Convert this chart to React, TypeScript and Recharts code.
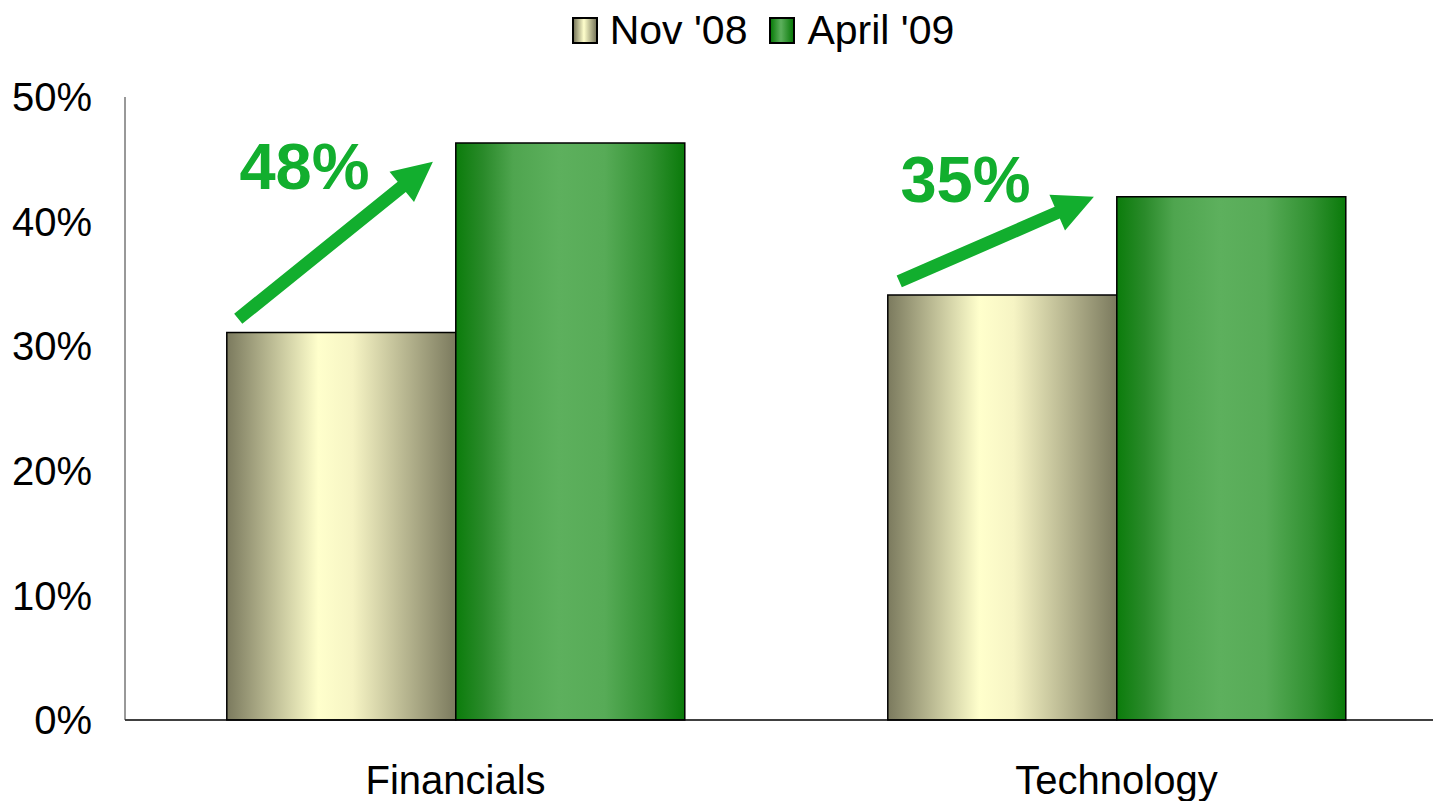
import React from 'react';
import { BarChart, Bar, XAxis, YAxis, Legend } from 'recharts';

const categories = ['Financials', 'Technology'];
const nov08 = [31.1, 34.1];
const apr09 = [46.3, 42.0];
const yTicks = [0, 10, 20, 30, 40, 50];
const seriesNames = ["Nov '08", "April '09"];
const changeLabels = ['48%', '35%'];
const arrowFrom = [32.2, 35.2];
const arrowTo = [44.8, 42.0];
const labelAt = [42.6, 41.6];

const data = categories.map((c, i) => ({ name: c, nov: nov08[i], apr: apr09[i] }));

const FONT = '"Liberation Sans", Arial, Helvetica, sans-serif';
const GREEN = '#12AE2E';
const CHART_W = 1460;
const CHART_H = 801;

function arrowPoints(tx: number, ty: number, hx: number, hy: number) {
  const dx = hx - tx;
  const dy = hy - ty;
  const len = Math.sqrt(dx * dx + dy * dy);
  const ux = dx / len;
  const uy = dy / len;
  const px = -uy;
  const py = ux;
  const sw = 6.5;
  const hl = 40;
  const hw = 19.5;
  const bx = hx - ux * hl;
  const by = hy - uy * hl;
  const pts = [
    [tx + px * sw, ty + py * sw],
    [bx + px * sw, by + py * sw],
    [bx + px * hw, by + py * hw],
    [hx, hy],
    [bx - px * hw, by - py * hw],
    [bx - px * sw, by - py * sw],
    [tx - px * sw, ty - py * sw],
  ];
  return pts.map((p) => p.join(',')).join(' ');
}

const ArrowLabel = (props: any) => {
  const { x, y, width, height, value, index } = props;
  if (value == null || !height) return null;
  const ppu = height / value;
  const base = y + height;
  const toY = (v: number) => base - v * ppu;
  const novX = x - width;
  const tx = novX + width * 0.05;
  const ty = toY(arrowFrom[index]);
  const hx = x - width * 0.1;
  const hy = toY(arrowTo[index]);
  return (
    <g>
      <polygon points={arrowPoints(tx, ty, hx, hy)} fill={GREEN} />
      <text
        x={novX + width * 0.055}
        y={toY(labelAt[index])}
        fill={GREEN}
        fontSize={65}
        fontWeight="bold"
        fontFamily={FONT}
      >
        {changeLabels[index]}
      </text>
    </g>
  );
};

const swatchStyles = [
  'linear-gradient(to right, #7b7a5e 0%, #ffffcc 45%, #7b7a5e 100%)',
  'linear-gradient(to right, #0c7d0c 0%, #5db05d 45%, #0a7a0a 100%)',
];

const LegendContent = () => (
  <div
    style={{
      width: CHART_W,
      height: 97,
      display: 'flex',
      justifyContent: 'center',
      paddingLeft: 66,
      boxSizing: 'border-box',
      fontFamily: FONT,
      fontSize: 41,
      color: '#000',
    }}
  >
    <div style={{ display: 'flex', alignItems: 'center', height: 60 }}>
      {seriesNames.map((n, i) => (
        <div key={n} style={{ display: 'flex', alignItems: 'center', marginRight: i === 0 ? 22 : 0 }}>
          <div
            style={{
              width: 22,
              height: 23,
              border: '2px solid #000',
              background: swatchStyles[i],
              marginRight: 12,
            }}
          />
          <span style={{ lineHeight: '44px' }}>{n}</span>
        </div>
      ))}
    </div>
  </div>
);

export default function App() {
  return (
    <div
      style={{
        position: 'absolute',
        left: 0,
        top: 0,
        width: 1433,
        height: 801,
        overflow: 'hidden',
        background: '#fff',
      }}
    >
      <BarChart
        width={CHART_W}
        height={CHART_H}
        data={data}
        margin={{ top: 0, right: 13, left: 0, bottom: 0 }}
        barCategoryGap="15.4%"
        barGap={0}
      >
        <defs>
          <linearGradient id="gNov" x1="0" y1="0" x2="1" y2="0">
            <stop offset="0%" stopColor="#7b7a5e" />
            <stop offset="40%" stopColor="#ffffcc" />
            <stop offset="55%" stopColor="#f6f4c4" />
            <stop offset="100%" stopColor="#7b7a5e" />
          </linearGradient>
          <linearGradient id="gApr" x1="0" y1="0" x2="1" y2="0">
            <stop offset="0%" stopColor="#0b7c0b" />
            <stop offset="12%" stopColor="#2a8a2a" />
            <stop offset="25%" stopColor="#4fa54f" />
            <stop offset="45%" stopColor="#5db05d" />
            <stop offset="65%" stopColor="#57ab57" />
            <stop offset="85%" stopColor="#319131" />
            <stop offset="100%" stopColor="#0a7a0a" />
          </linearGradient>
        </defs>
        <Legend verticalAlign="top" align="left" content={<LegendContent />} wrapperStyle={{ left: 0, top: 0, width: CHART_W }} />
        <XAxis
          dataKey="name"
          height={81}
          axisLine={{ stroke: '#000', strokeWidth: 1.5 }}
          tickLine={false}
          tickSize={0}
          tickMargin={46}
          tick={{ fontSize: 40, fill: '#000', fontFamily: FONT }}
        />
        <YAxis
          width={125}
          domain={[0, 50]}
          ticks={yTicks}
          tickFormatter={(v: number) => `${v}%`}
          axisLine={{ stroke: '#333', strokeWidth: 1 }}
          tickLine={false}
          tickSize={0}
          tickMargin={33}
          tick={{ fontSize: 40, fill: '#000', fontFamily: FONT }}
        />
        <Bar dataKey="nov" name={seriesNames[0]} fill="url(#gNov)" stroke="#000" strokeWidth={1.5} isAnimationActive={false} />
        <Bar
          dataKey="apr"
          name={seriesNames[1]}
          fill="url(#gApr)"
          stroke="#000"
          strokeWidth={1.5}
          isAnimationActive={false}
          label={<ArrowLabel />}
        />
      </BarChart>
    </div>
  );
}
